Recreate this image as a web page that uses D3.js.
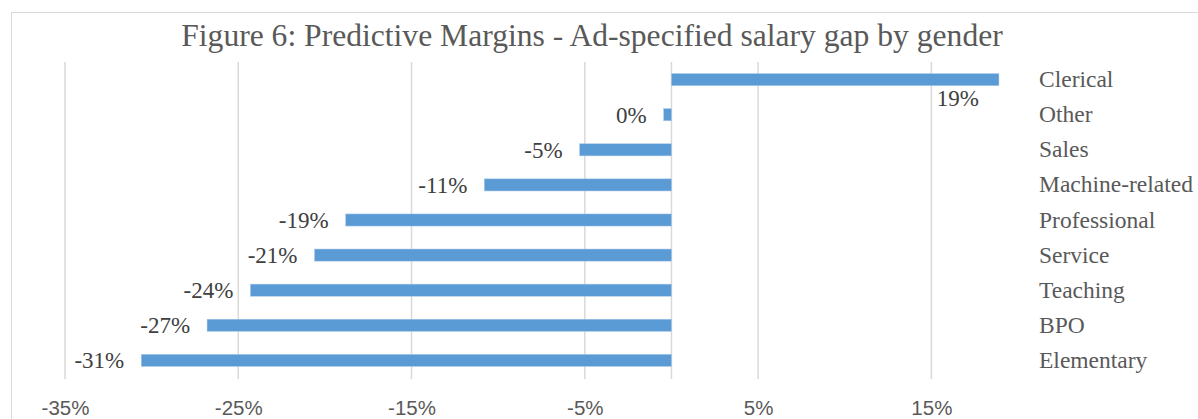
<!DOCTYPE html>
<html>
<head>
<meta charset="utf-8">
<script src="https://cdn.jsdelivr.net/npm/d3@7"></script>
<style>
  html, body { margin: 0; padding: 0; background: #fff; }
  svg { display: block; }
</style>
</head>
<body>
<svg id="chart" width="1198" height="419"></svg>
<script>
const categories = ["Clerical", "Other", "Sales", "Machine-related", "Professional", "Service", "Teaching", "BPO", "Elementary"];
const values = [18.9, -0.45, -5.3, -10.8, -18.8, -20.6, -24.3, -26.8, -30.6];
const tickValues = [-35, -25, -15, -5, 5, 15];
const title = "Figure 6: Predictive Margins - Ad-specified salary gap by gender";

const svg = d3.select("#chart");
const textColor = "#595959";
const gridColor = "#d9d9d9";
const barColor = "#5b9bd5";
const serif = "'Liberation Serif', 'Times New Roman', serif";

// outer border (extends past the picture's right/bottom edges)
svg.append("rect")
  .attr("x", 11.5).attr("y", 12.5)
  .attr("width", 1300).attr("height", 500)
  .attr("fill", "none").attr("stroke", gridColor).attr("stroke-width", 1);

const x = d3.scaleLinear().domain([-35, 20]).range([65, 1018]);
const y = d3.scaleBand().domain(categories).range([62, 378]).paddingInner(0.655).paddingOuter(0.33);
const rowCenter = c => y(c) + y.bandwidth() / 2;

// gridlines
svg.append("g").selectAll("line").data(tickValues).join("line")
  .attr("x1", d => x(d)).attr("x2", d => x(d))
  .attr("y1", 62).attr("y2", 379)
  .attr("stroke", gridColor).attr("stroke-width", 1.5);

// zero axis line
svg.append("line")
  .attr("x1", x(0)).attr("x2", x(0)).attr("y1", 62).attr("y2", 379)
  .attr("stroke", gridColor).attr("stroke-width", 1.5);

// bars
const data = categories.map((c, i) => ({ c, v: values[i] }));
svg.append("g").selectAll("rect").data(data).join("rect")
  .attr("x", d => Math.min(x(0), x(d.v)))
  .attr("width", d => Math.abs(x(d.v) - x(0)))
  .attr("y", d => y(d.c))
  .attr("height", y.bandwidth())
  .attr("fill", barColor)
  .attr("stroke", "#a9c8e8").attr("stroke-width", 0.5);

// value labels
const fmt = v => { const r = Math.round(v); return (r === 0 ? 0 : r) + "%"; };
svg.append("g").selectAll("text").data(data).join("text")
  .attr("x", d => d.v >= 0 ? x(d.v) - 20 : x(d.v) - 17)
  .attr("y", d => d.v >= 0 ? rowCenter(d.c) + 26 : rowCenter(d.c) + 8)
  .attr("text-anchor", "end")
  .attr("font-family", serif)
  .attr("font-size", 23)
  .attr("fill", "#404040")
  .text(d => fmt(d.v));

// category labels (right side)
svg.append("g").selectAll("text").data(categories).join("text")
  .attr("x", 1039)
  .attr("y", d => rowCenter(d) + 7.5)
  .attr("font-family", serif)
  .attr("font-size", 23.5)
  .attr("fill", textColor)
  .text(d => d);

// x axis tick labels
const xAxis = d3.axisBottom(x).tickValues(tickValues).tickSize(0).tickPadding(0)
  .tickFormat(d => d + "%");
const gx = svg.append("g").attr("transform", "translate(0,415)").call(xAxis);
gx.select(".domain").remove();
gx.selectAll("text")
  .attr("font-family", "'Liberation Sans', Arial, sans-serif")
  .attr("font-size", 20.5)
  .attr("fill", textColor)
  .attr("dy", 0);

// title
svg.append("text")
  .attr("x", 592).attr("y", 46)
  .attr("text-anchor", "middle")
  .attr("font-family", serif)
  .attr("font-size", 31.6)
  .attr("fill", textColor)
  .text(title);
</script>
</body>
</html>
